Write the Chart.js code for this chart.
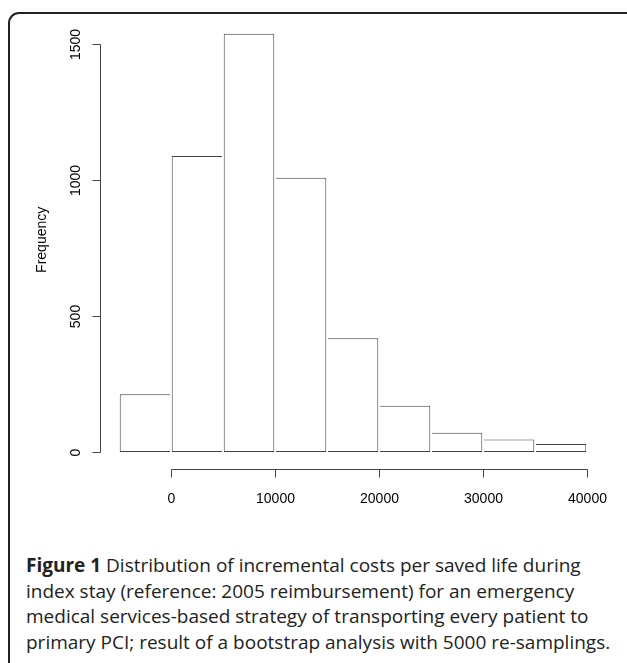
<!DOCTYPE html>
<html>
<head>
<meta charset="utf-8">
<script src="https://cdn.jsdelivr.net/npm/chart.js@4.4.1/dist/chart.umd.min.js"></script>
<style>
  html, body { margin: 0; padding: 0; background: #fff; }
  body { width: 627px; height: 663px; position: relative; overflow: hidden; }
  #frame {
    position: absolute; left: 8px; top: 12px; width: 720px; height: 720px;
    border: 2px solid #222; border-top-left-radius: 11px; box-sizing: border-box;
  }
  #chartBox { position: absolute; left: 0; top: 0; width: 627px; height: 520px; }
  #caption {
    position: absolute; left: 26px; top: 553px;
    font-family: 'Open Sans', sans-serif; font-size: 19px; line-height: 25.5px;
    color: #222; white-space: nowrap;
  }
  #caption b { font-weight: 700; }
</style>
</head>
<body>
<div id="frame"></div>
<div id="chartBox"><canvas id="histChart" width="627" height="520"></canvas></div>
<div id="caption">
  <b>Figure 1</b> Distribution of incremental costs per saved life during<br>
  index stay (reference: 2005 reimbursement) for an emergency<br>
  medical services-based strategy of transporting every patient to<br>
  primary PCI; result of a bootstrap analysis with 5000 re-samplings.
</div>
<script>
// histogram bins (euro), 5000 wide
const binStarts = [-5000, 0, 5000, 10000, 15000, 20000, 25000, 30000, 35000];
const binWidth = 5000;
const frequencies = [212, 1088, 1538, 1008, 418, 170, 71, 46, 29];

const xTicks = [0, 10000, 20000, 30000, 40000];
const yTicks = [0, 500, 1000, 1500];

const xTitle = 'Incremental cost (€)';
const yTitle = 'Frequency';

const lineColor = '#444';
const labelFont = '14px "Liberation Sans", Arial, sans-serif';

// R-style axes: line only between first and last tick
const rAxes = {
  id: 'rAxes',
  afterDraw(chart) {
    const { ctx, chartArea, scales: { x, y } } = chart;
    ctx.save();
    ctx.strokeStyle = lineColor;
    ctx.lineWidth = 1;

    const xBase = Math.round(chartArea.bottom) + 0.5;
    const xs = xTicks.map(v => Math.round(x.getPixelForValue(v)) + 0.5);
    ctx.beginPath();
    ctx.moveTo(xs[0], xBase);
    ctx.lineTo(xs[xs.length - 1], xBase);
    xs.forEach(px => { ctx.moveTo(px, xBase); ctx.lineTo(px, xBase + 8); });
    ctx.stroke();

    const yBase = Math.round(chartArea.left) + 0.5;
    const ys = yTicks.map(v => Math.round(y.getPixelForValue(v)) + 0.5);
    ctx.beginPath();
    ctx.moveTo(yBase, ys[0]);
    ctx.lineTo(yBase, ys[ys.length - 1]);
    ys.forEach(py => { ctx.moveTo(yBase, py); ctx.lineTo(yBase - 8, py); });
    ctx.stroke();

    ctx.fillStyle = '#000';
    ctx.font = labelFont;
    ctx.textAlign = 'center';
    ctx.textBaseline = 'middle';
    xTicks.forEach((v, i) => ctx.fillText(String(v), xs[i], xBase + 30));
    ctx.fillText(xTitle, (chartArea.left + chartArea.right) / 2, xBase + 66);

    yTicks.forEach((v, i) => {
      ctx.save();
      ctx.translate(yBase - 24, ys[i]);
      ctx.rotate(-Math.PI / 2);
      ctx.fillText(String(v), 0, 0);
      ctx.restore();
    });
    ctx.save();
    ctx.translate(yBase - 58.5, (chartArea.top + chartArea.bottom) / 2 - 3);
    ctx.rotate(-Math.PI / 2);
    ctx.fillText(yTitle, 0, 0);
    ctx.restore();

    ctx.restore();
  }
};

// each shared edge is drawn once, by the taller bar
function edgeWidths(ctx) {
  const i = ctx.dataIndex;
  if (i === undefined) return 1;
  const h = frequencies[i];
  const prev = i > 0 ? frequencies[i - 1] : -1;
  const next = i < frequencies.length - 1 ? frequencies[i + 1] : -1;
  return { top: 1, bottom: 1, left: h > prev ? 1 : 0, right: h >= next ? 1 : 0 };
}

new Chart(document.getElementById('histChart'), {
  type: 'bar',
  data: {
    datasets: [{
      data: binStarts.map((s, i) => ({ x: s + binWidth / 2, y: frequencies[i] })),
      backgroundColor: '#fff',
      borderColor: lineColor,
      borderWidth: edgeWidths,
      borderSkipped: false,
      barPercentage: 1,
      categoryPercentage: 1,
      inflateAmount: 0
    }]
  },
  options: {
    responsive: false,
    animation: false,
    layout: { padding: { left: 100.28, right: 21.28, top: 16.94, bottom: 51.27 } },
    plugins: { legend: { display: false }, tooltip: { enabled: false } },
    scales: {
      x: {
        type: 'linear', display: false, offset: false,
        min: -6800, max: 41800,
        ticks: { stepSize: binWidth, includeBounds: false }
      },
      y: { display: false, min: -61.5, max: 1599.5 }
    }
  },
  plugins: [rAxes]
});
</script>
</body>
</html>
